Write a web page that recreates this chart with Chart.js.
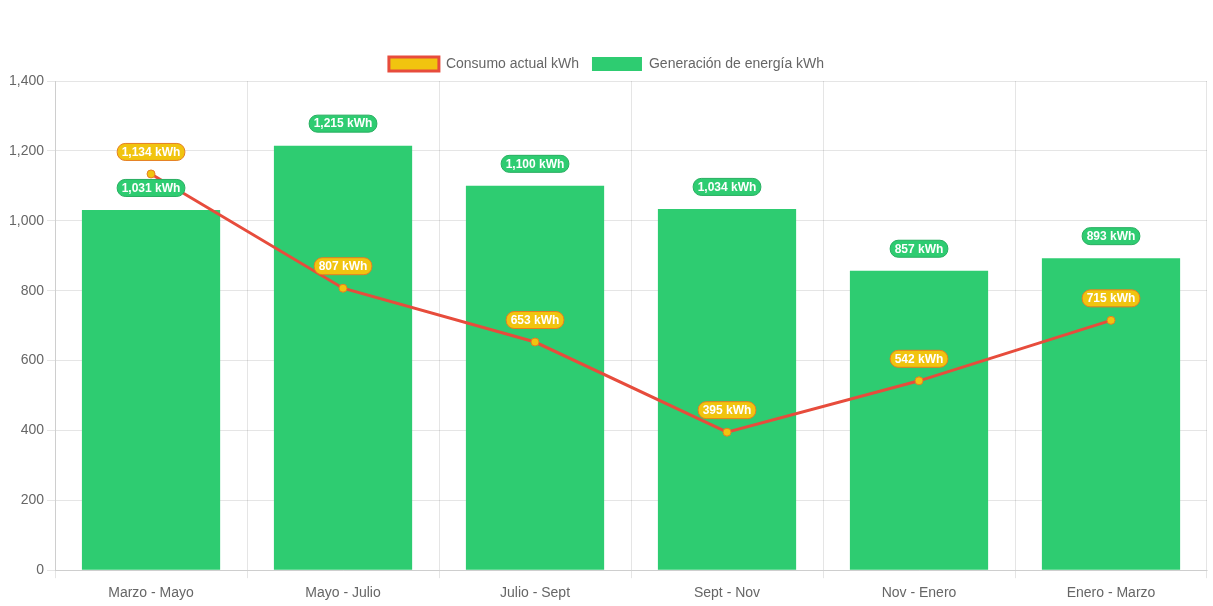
<!DOCTYPE html>
<html>
<head>
<meta charset="utf-8">
<script src="https://cdn.jsdelivr.net/npm/chart.js@4"></script>
<style>
  html, body { margin: 0; padding: 0; background: #fff; }
  #wrap { width: 1213px; height: 606px; }
</style>
</head>
<body>
<div id="wrap"><canvas id="energyChart"></canvas></div>
<script>
const periods = ["Marzo - Mayo", "Mayo - Julio", "Julio - Sept", "Sept - Nov", "Nov - Enero", "Enero - Marzo"];
const consumo = [1134, 807, 653, 395, 542, 715];
const generacion = [1031, 1215, 1100, 1034, 857, 893];
const yTicks = [0, 200, 400, 600, 800, 1000, 1200, 1400];

Chart.defaults.font.family = "'Liberation Sans', Arial, sans-serif";
Chart.defaults.color = "#666";

// draws the rounded value tags over bars and points
const valueTags = {
  id: "valueTags",
  afterDatasetsDraw(chart) {
    const ctx = chart.ctx;
    ctx.save();
    ctx.font = "bold 12px 'Liberation Sans', Arial, sans-serif";
    ctx.textAlign = "center";
    ctx.textBaseline = "middle";
    // bars first, then line so the line tags sit on top
    [1, 0].forEach(di => {
      const ds = chart.data.datasets[di];
      const meta = chart.getDatasetMeta(di);
      meta.data.forEach((el, i) => {
        const text = ds.data[i].toLocaleString("en-US") + " kWh";
        const w = ctx.measureText(text).width + 9;
        const h = 17;
        const cx = el.x;
        const cy = el.y - 22;
        ctx.beginPath();
        ctx.roundRect(cx - w / 2, cy - h / 2, w, h, 8);
        ctx.fillStyle = ds.tagBg;
        ctx.fill();
        ctx.lineWidth = 1;
        ctx.strokeStyle = ds.tagBorder;
        ctx.stroke();
        ctx.fillStyle = "#fff";
        ctx.fillText(text, cx, cy + 0.5);
      });
    });
    ctx.restore();
  }
};

new Chart(document.getElementById("energyChart"), {
  type: "bar",
  data: {
    labels: periods,
    datasets: [{
      type: "line",
      label: "Consumo actual kWh",
      data: consumo,
      borderColor: "#e74c3c",
      backgroundColor: "#f1c40f",
      borderWidth: 3,
      tension: 0,
      pointRadius: 4,
      pointBackgroundColor: "#f1c40f",
      pointBorderColor: "#e67e22",
      pointBorderWidth: 1,
      tagBg: "#f1c40f",
      tagBorder: "#e67e22",
      order: 0
    }, {
      label: "Generación de energía kWh",
      data: generacion,
      backgroundColor: "#2ecc71",
      borderWidth: 0,
      tagBg: "#2ecc71",
      tagBorder: "#27ae60",
      order: 1
    }]
  },
  options: {
    responsive: true,
    maintainAspectRatio: false,
    animation: false,
    layout: { padding: { top: 44, right: 6, left: 6, bottom: -3 } },
    plugins: {
      legend: {
        labels: { boxWidth: 50, boxHeight: 14, font: { size: 14 }, padding: 13 }
      },
      tooltip: { enabled: false }
    },
    scales: {
      x: {
        ticks: { font: { size: 14 }, padding: 7 }
      },
      y: {
        min: 0,
        max: 1400,
        afterBuildTicks: axis => { axis.ticks = yTicks.map(v => ({ value: v })); },
        ticks: { font: { size: 14 } }
      }
    }
  },
  plugins: [valueTags]
});
</script>
</body>
</html>
